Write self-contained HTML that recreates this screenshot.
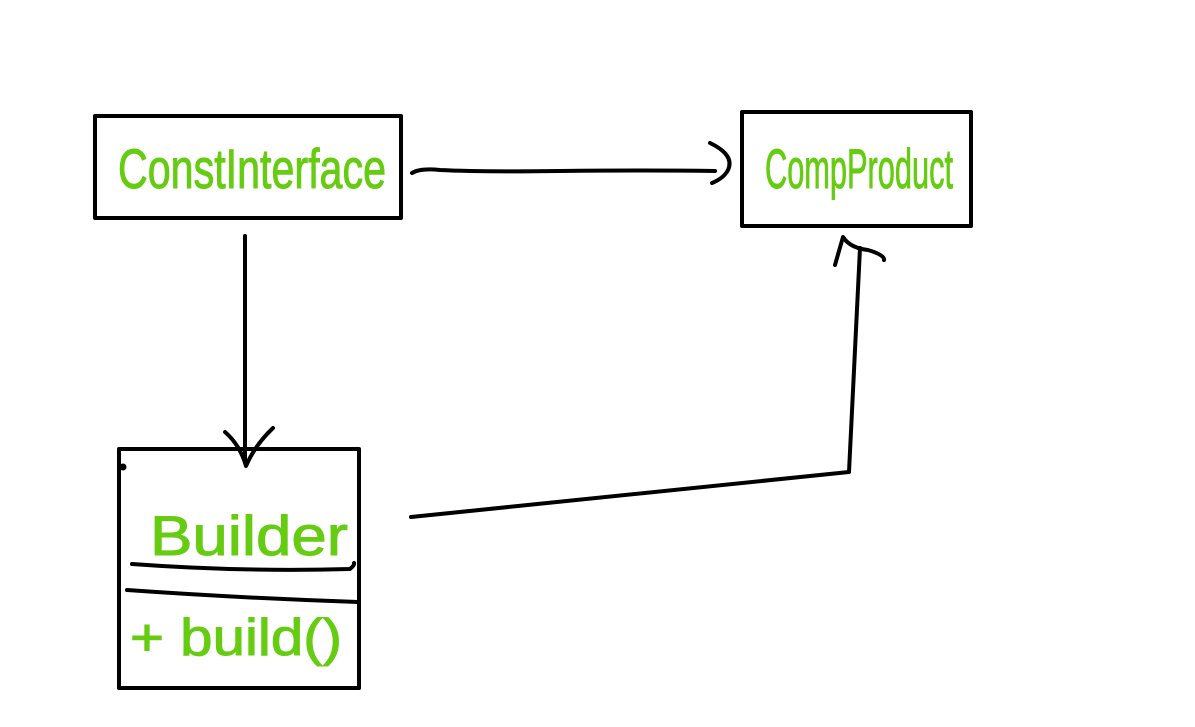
<!DOCTYPE html>
<html><head><meta charset="utf-8"><style>html,body{margin:0;padding:0;background:#fff}svg{display:block}</style></head>
<body>
<svg width="1195" height="727" viewBox="0 0 1195 727" xmlns="http://www.w3.org/2000/svg">
<g fill="none" stroke="#000" stroke-width="4" stroke-linecap="round" stroke-linejoin="round">
<rect x="95" y="116" width="306" height="102"/>
<rect x="742" y="112" width="229" height="114"/>
<rect x="119" y="449" width="240" height="239"/>
<path d="M412 173 Q420 168 440 170 Q480 172 560 171 Q650 170 715 171"/>
<path d="M710 143 Q735 155 728 170 Q724 178 712 183"/>
<path d="M245 236 L245 460"/>
<path d="M225 432 Q240 445 246 466 Q255 445 273 428"/>
<path d="M411 517 L849 472 L860 248"/>
<path d="M835 265 L843 237 Q850 248 868 250 Q885 255 884 260"/>
<path d="M132 564 Q240 572 350 569 Q355 565 354 563"/>
<path d="M127 590 Q240 598 358 602"/>
<circle cx="123" cy="467" r="1.5" fill="#000"/>
</g>
<g fill="#66cc11" stroke="#66cc11" stroke-width="1" font-family="Liberation Sans, sans-serif">
<text x="118" y="188" font-size="56" textLength="268" lengthAdjust="spacingAndGlyphs">ConstInterface</text>
<text x="765" y="188" font-size="56" textLength="188" lengthAdjust="spacingAndGlyphs">CompProduct</text>
<text x="150" y="555" font-size="56" textLength="198" lengthAdjust="spacingAndGlyphs">Builder</text>
<text x="130" y="655" font-size="52" textLength="212" lengthAdjust="spacingAndGlyphs">+ build()</text>
</g>
</svg>
</body></html>
